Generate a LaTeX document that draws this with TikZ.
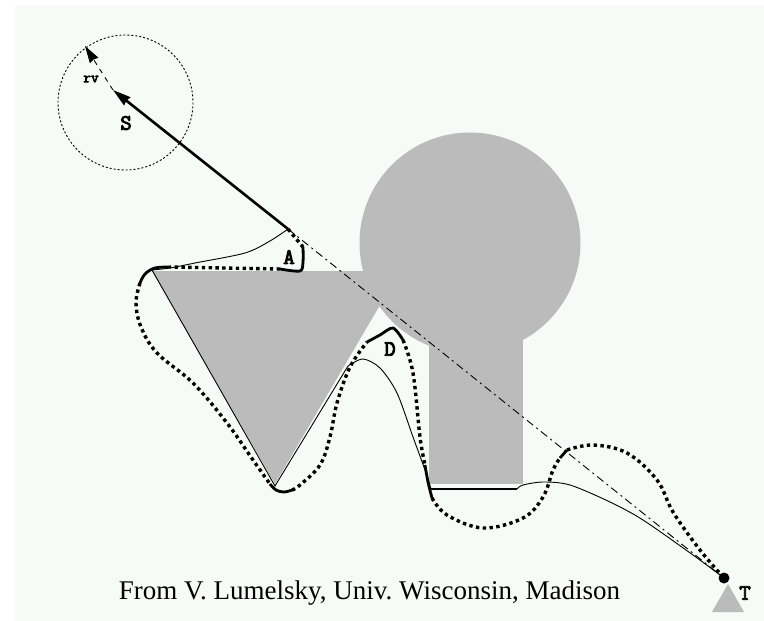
\documentclass[tikz,border=0pt]{standalone}
\usepackage{fontspec}
\setmainfont{Liberation Serif}
\newfontfamily\labfont[FakeBold=4]{Latin Modern Mono}
\usetikzlibrary{arrows.meta,calc}
\definecolor{obst}{RGB}{187,187,187}
\definecolor{paper}{RGB}{246,251,247}
\begin{document}
\begin{tikzpicture}[x=1pt, y=-1pt, >=Stealth,
	   lbl/.style={font=\labfont\fontsize{22}{22}\selectfont, inner sep=0pt},
	   thinpath/.style={line width=.9pt},
	   thickpath/.style={line width=2.8pt},
	   dotpath/.style={line width=3.4pt, dash pattern=on 3.4pt off 3.4pt},
	   dashpath/.style={line width=.9pt, dash pattern=on 8pt off 4pt on 2pt off 4pt}]
	  \fill[white] (0,0) rectangle (764,621);
	  \fill[paper] (15,5) rectangle (764,621);
	  % obstacles
	  \fill[obst] (470,243) circle (110.5);
	  \fill[obst] (429,300) rectangle (523,484);
	  \fill[obst] (152,271) -- (400,271) -- (275,484) -- cycle;
	  \fill[obst] (728,584) -- (744,612) -- (712,612) -- cycle;
	  % start, hit and target points
	  \coordinate (S) at (113,90);
	  \coordinate (R) at (85,46);
	  \coordinate (H) at (288,229);
	  \coordinate (T) at (724,578);
	  \draw[dash pattern=on 2pt off 2pt, line width=.9pt] (125.5,102.5) circle (67.5);
	  \draw[-{Stealth[length=17pt,width=10pt,inset=1pt]}, dash pattern=on 5pt off 5pt, line width=.9pt] (S) -- (R);
	  \draw[-{Stealth[length=18pt,width=10pt,inset=1pt]}, line width=2.6pt] (H) -- (S);
	  \draw[dashpath] (H) -- (T);
	  \fill (T) circle (5.5);
	  % thin path
	  \draw[thinpath] plot[smooth, tension=.5] coordinates {(H) (270,241) (245,253) (195,263) (170,268) (152,270)};
	  \draw[thinpath] (152,270) -- (275,486) -- (348,366);
	  \draw[thinpath] plot[smooth, tension=.5] coordinates {(348,366) (363,359) (380,368) (397,393) (413,437) (425,470) (431,489)};
	  \draw[thinpath, line width=1.6pt] (431,489) -- (517,489);
	  \draw[thinpath] plot[smooth, tension=.5] coordinates {(517,489) (523,485) (543,482) (570,485) (610,502) (643,520) (693,555) (T)};
	  % thick dotted path
	  \draw[dotpath] (H) -- (303,247);
	  \draw[thickpath] plot[smooth, tension=.5] coordinates {(303,247) (303,262) (300,271) (280,269)};
	  \draw[dotpath] (280,269) -- (170,267);
	  \draw[thickpath] plot[smooth, tension=.6] coordinates {(170,267) (155,268) (145,274) (140,283)};
	  \draw[dotpath] plot[smooth, tension=.6] coordinates {(140,283) (136,303) (141,327) (157,353) (193,383) (227,423) (253,460) (270,484)};
	  \draw[thickpath] plot[smooth, tension=.6] coordinates {(270,484) (276,490) (284,492) (292,490)};
	  \draw[dotpath] plot[smooth, tension=.6] coordinates {(292,490) (300,485) (320,465) (330,437) (337,403) (350,367) (367,342)};
	  \draw[thickpath] plot[smooth, tension=.5] coordinates {(367,342) (380,335) (393,328) (403,340)};
	  \draw[dotpath] plot[smooth, tension=.6] coordinates {(403,340) (413,373) (420,437) (425,465)};
	  \draw[thickpath] plot[smooth, tension=.6] coordinates {(425,465) (428,482) (432,498)};
	  \draw[dotpath] plot[smooth, tension=.6] coordinates {(432,498) (447,515) (483,528) (523,518) (543,497) (553,470) (560,458)};
	  \draw[thickpath] (560,458) -- (567,450);
	  \draw[dotpath] plot[smooth, tension=.6] coordinates {(567,450) (593,445) (627,453) (657,480) (673,512) (700,550) (T)};
	  % labels
	  \node[lbl] (labS) at (126,123) {S};
	  \node[lbl] (labA) at (289,257) {A};
	  \node[lbl] (labD) at (390,349) {D};
	  \node[lbl] (labT) at (745,593) {T};
	  \node[lbl, font=\labfont\fontsize{15}{15}\selectfont] (labR) at (91,79) {rv};
	  \node[inner sep=0pt, font=\fontsize{27}{27}\selectfont\frenchspacing] (src) at (369.5,593) {From V. Lumelsky, Univ. Wisconsin, Madison};
	\end{tikzpicture}
\end{document}
